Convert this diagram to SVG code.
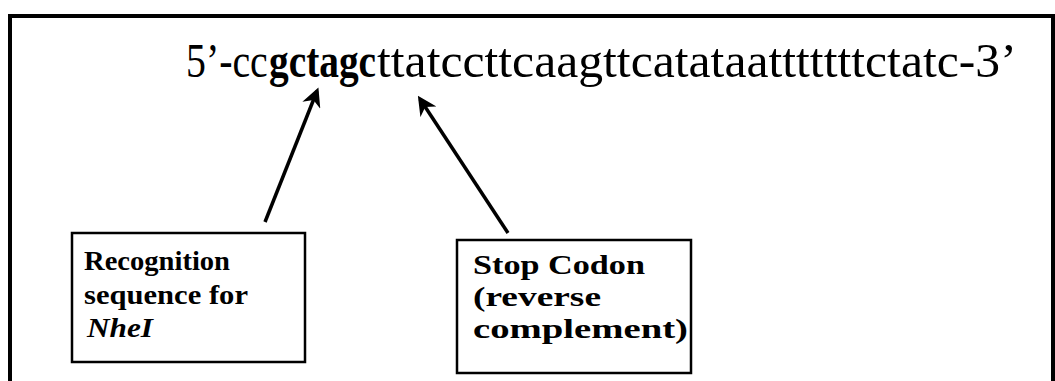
<svg xmlns="http://www.w3.org/2000/svg" width="1055" height="381" viewBox="0 0 1055 381">
<defs>
<style>
.seq{font-family:"Liberation Serif","Times New Roman",serif;font-size:48px;fill:#000}
.b{font-weight:bold}
.lbl{font-family:"Liberation Serif","Times New Roman",serif;font-size:28px;font-weight:bold;fill:#000}
.box{fill:#fff;stroke:#000;stroke-width:2.5}
.arr{stroke:#000;stroke-width:3.5;fill:none;marker-end:url(#ah)}
</style>
<marker id="ah" viewBox="0 0 10 10" refX="8" refY="5" markerWidth="5.5" markerHeight="5.5" orient="auto" markerUnits="strokeWidth">
<path d="M0,0 L10,5 L0,10 L3,5 Z" fill="#000"/>
</marker>
</defs>
<rect width="1055" height="381" fill="#fff"/>
<g id="frame">
<path d="M10,381 L10,16 L1053,16 L1053,381" fill="none" stroke="#000" stroke-width="4"/>
</g>
<g id="sequence">
<text class="seq" transform="translate(186,77) scale(0.83,1)">5’-cc</text>
<text class="seq b" transform="translate(269,77) scale(0.82,1)">gctagc</text>
<text class="seq" transform="translate(377,77) scale(1.035,1)">ttatccttcaagttcatataatttttttctatc-3’</text>
</g>
<g id="connectors">
<line class="arr" x1="265" y1="222" x2="317" y2="91"/>
<line class="arr" x1="508" y1="233" x2="420" y2="99"/>
</g>
<g id="node-nhei">
<rect class="box" x="72" y="233" width="233" height="129"/>
<text class="lbl" x="84" y="270" textLength="146" lengthAdjust="spacingAndGlyphs">Recognition</text>
<text class="lbl" x="84" y="304" textLength="164" lengthAdjust="spacingAndGlyphs">sequence for</text>
<text class="lbl" x="87" y="337" font-style="italic" textLength="66" lengthAdjust="spacingAndGlyphs">NheI</text>
</g>
<g id="node-stop">
<rect class="box" x="457" y="240" width="234" height="133"/>
<text class="lbl" x="473" y="274" textLength="172" lengthAdjust="spacingAndGlyphs">Stop Codon</text>
<text class="lbl" x="473" y="306" textLength="128" lengthAdjust="spacingAndGlyphs">(reverse</text>
<text class="lbl" x="473" y="338" textLength="215" lengthAdjust="spacingAndGlyphs">complement)</text>
</g>
</svg>
